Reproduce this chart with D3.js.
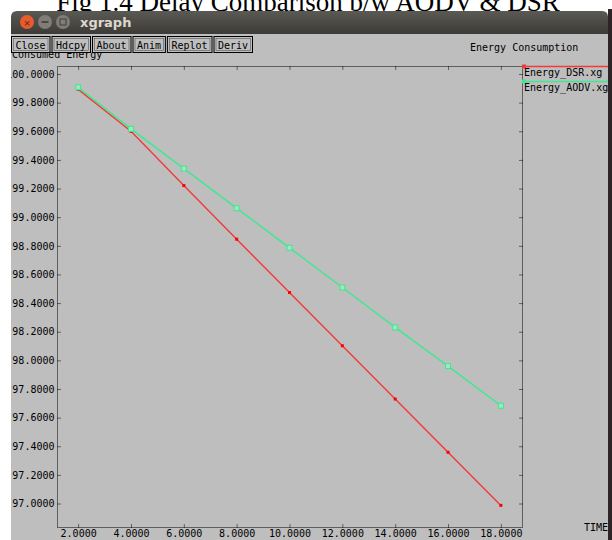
<!DOCTYPE html>
<html lang="en">
<head>
    <meta charset="UTF-8">
    <title>xgraph - Energy Consumption</title>
    <script src="https://d3js.org/d3.v7.min.js"></script>
    <style>
        body { margin: 0; background: #fff; }
        text { font-family: "DejaVu Sans Mono", monospace; }
    </style>
</head>
<body>
    <svg id="chart" width="612" height="540"></svg>
    <script>
        // values
        const times = [2, 4, 6, 8, 10, 12, 14, 16, 18];
        const dsr = [99.893, 99.600, 99.221, 98.846, 98.474, 98.102, 97.730, 97.358, 96.987];
        const aodv = [99.907, 99.617, 99.339, 99.063, 98.786, 98.509, 98.230, 97.960, 97.683];
        const xTicks = [2, 4, 6, 8, 10, 12, 14, 16, 18];
        const yTicks = [97.0, 97.2, 97.4, 97.6, 97.8, 98.0, 98.2, 98.4, 98.6, 98.8, 99.0, 99.2, 99.4, 99.6, 99.8, 100.0];
        const buttons = ["Close", "Hdcpy", "About", "Anim", "Replot", "Deriv"];
        const seriesNames = ["Energy_DSR.xg", "Energy_AODV.xg"];

        const series = [
            {name: seriesNames[0], values: dsr, color: "#f23a3a"},
            {name: seriesNames[1], values: aodv, color: "#3ee890"}
        ];

        const svg = d3.select("#chart");

        // caption of the page behind the window
        svg.append("text")
            .attr("x", 308).attr("y", 11)
            .attr("text-anchor", "middle")
            .style("font-family", "Liberation Serif, serif")
            .style("font-size", "27px")
            .attr("fill", "#000")
            .text("Fig 1.4 Delay Comparison b/w AODV & DSR");

        // window chrome
        const defs = svg.append("defs");
        const grad = defs.append("linearGradient").attr("id", "bar").attr("x1", 0).attr("y1", 0).attr("x2", 0).attr("y2", 1);
        grad.append("stop").attr("offset", "0%").attr("stop-color", "#5b5953");
        grad.append("stop").attr("offset", "100%").attr("stop-color", "#3c3b37");

        svg.append("rect").attr("x", 608).attr("y", 9).attr("width", 4).attr("height", 531).attr("fill", "#2e2327");
        svg.append("path")
            .attr("d", "M11,34 L11,17 Q11,11 17,11 L602,11 Q608,11 608,17 L608,34 Z")
            .attr("fill", "url(#bar)");
        svg.append("rect").attr("x", 11).attr("y", 34).attr("width", 597).attr("height", 506).attr("fill", "#bebebe");

        svg.append("circle").attr("cx", 27).attr("cy", 22).attr("r", 7).attr("fill", "#e95b2c");
        svg.append("text").attr("x", 27).attr("y", 25.5).attr("text-anchor", "middle")
            .style("font-family", "DejaVu Sans").style("font-size", "9px").attr("fill", "#4a2a20").text("×");
        svg.append("circle").attr("cx", 45).attr("cy", 22).attr("r", 7).attr("fill", "#807d76");
        svg.append("rect").attr("x", 41.5).attr("y", 21).attr("width", 7).attr("height", 2).attr("fill", "#4b4944");
        svg.append("circle").attr("cx", 63).attr("cy", 22).attr("r", 7).attr("fill", "#807d76");
        svg.append("rect").attr("x", 60).attr("y", 19).attr("width", 6).attr("height", 6)
            .attr("fill", "none").attr("stroke", "#4b4944").attr("stroke-width", 1.2);
        svg.append("text").attr("x", 80).attr("y", 27)
            .style("font-family", "DejaVu Sans").style("font-weight", "bold").style("font-size", "13px")
            .attr("fill", "#dcd8cf").text("xgraph");

        // y axis title, partly hidden by the button row
        svg.append("text").attr("x", 12).attr("y", 58)
            .style("font-size", "10px").attr("fill", "#000").text("Consumed Energy");

        // button row
        let bx = 11;
        buttons.forEach(b => {
            const w = b.length * 6.1 + 8;
            svg.append("rect").attr("x", bx + 0.5).attr("y", 36.5).attr("width", w).attr("height", 16)
                .attr("fill", "#bebebe").attr("stroke", "#000");
            svg.append("rect").attr("x", bx + 2.5).attr("y", 38.5).attr("width", w - 4).attr("height", 12)
                .attr("fill", "none").attr("stroke", "#555").attr("stroke-width", 0.6);
            svg.append("text").attr("x", bx + 4.5).attr("y", 48.5)
                .style("font-size", "10px").attr("fill", "#000").text(b);
            bx += w + 2;
        });

        svg.append("text").attr("x", 470).attr("y", 51)
            .style("font-size", "10px").attr("fill", "#000").text("Energy Consumption");

        // plot area
        const pLeft = 57, pRight = 522, pTop = 66, pBottom = 527;
        const x = d3.scaleLinear().domain([1.2, 18.8]).range([pLeft, pRight]);
        const y = d3.scaleLinear().domain([96.836, 100.056]).range([pBottom, pTop]);

        const fmt = d3.format(".4f");

        svg.append("rect")
            .attr("x", pLeft + 0.5).attr("y", pTop + 0.5)
            .attr("width", pRight - pLeft).attr("height", pBottom - pTop)
            .attr("fill", "none").attr("stroke", "#000").attr("stroke-dasharray", "1,1");

        function styleAxis(g) {
            g.select(".domain").remove();
            g.selectAll(".tick line").attr("stroke", "#000").attr("stroke-dasharray", "1,1");
            g.selectAll(".tick text").style("font-family", "DejaVu Sans Mono, monospace")
                .style("font-size", "10px").attr("fill", "#000");
        }

        svg.append("g").attr("transform", `translate(${pLeft + 0.5},0)`)
            .call(d3.axisLeft(y).tickValues(yTicks).tickFormat(fmt).tickSizeInner(-4).tickSizeOuter(0).tickPadding(3))
            .call(styleAxis);
        svg.append("g").attr("transform", `translate(${pRight + 0.5},0)`)
            .call(d3.axisRight(y).tickValues(yTicks).tickFormat("").tickSizeInner(-4).tickSizeOuter(0))
            .call(styleAxis);
        svg.append("g").attr("transform", `translate(0,${pBottom + 0.5})`)
            .call(d3.axisBottom(x).tickValues(xTicks).tickFormat(fmt).tickSizeInner(-4).tickSizeOuter(0).tickPadding(2))
            .call(styleAxis);
        svg.append("g").attr("transform", `translate(0,${pTop + 0.5})`)
            .call(d3.axisTop(x).tickValues(xTicks).tickFormat("").tickSizeInner(-4).tickSizeOuter(0))
            .call(styleAxis);

        // window's left edge clips the widest label
        svg.append("rect").attr("x", 0).attr("y", 34).attr("width", 11).attr("height", 506).attr("fill", "#fff");

        svg.append("text").attr("x", 584).attr("y", 531)
            .style("font-size", "10px").attr("fill", "#000").text("TIME");

        const line = d3.line().x((d, i) => x(times[i])).y(d => y(d));

        series.forEach((s, k) => {
            svg.append("path").datum(s.values)
                .attr("d", line)
                .attr("fill", "none").attr("stroke", s.color).attr("stroke-width", 1.4);

            const pts = svg.append("g").selectAll("rect").data(s.values).join("rect");
            if (k === 0) {
                pts.attr("x", (d, i) => x(times[i]) - 1.5).attr("y", d => y(d) - 1.5)
                    .attr("width", 3).attr("height", 3).attr("fill", "#ff0000");
            } else {
                pts.attr("x", (d, i) => x(times[i]) - 2.5).attr("y", d => y(d) - 2.5)
                    .attr("width", 5).attr("height", 5)
                    .attr("fill", "#9ee8c0").attr("stroke", s.color).attr("stroke-width", 1);
            }

            // legend entry
            const ly = pTop + k * 15;
            svg.append("line").attr("x1", pRight).attr("x2", 608).attr("y1", ly + 0.5).attr("y2", ly + 0.5)
                .attr("stroke", s.color).attr("stroke-width", 1.5);
            svg.append("rect").attr("x", pRight).attr("y", ly - 1.5).attr("width", 4).attr("height", 4)
                .attr("fill", s.color);
            svg.append("text").attr("x", pRight + 2).attr("y", ly + 10)
                .style("font-size", "10px").attr("fill", "#000").text(s.name);
        });
    </script>
</body>
</html>
